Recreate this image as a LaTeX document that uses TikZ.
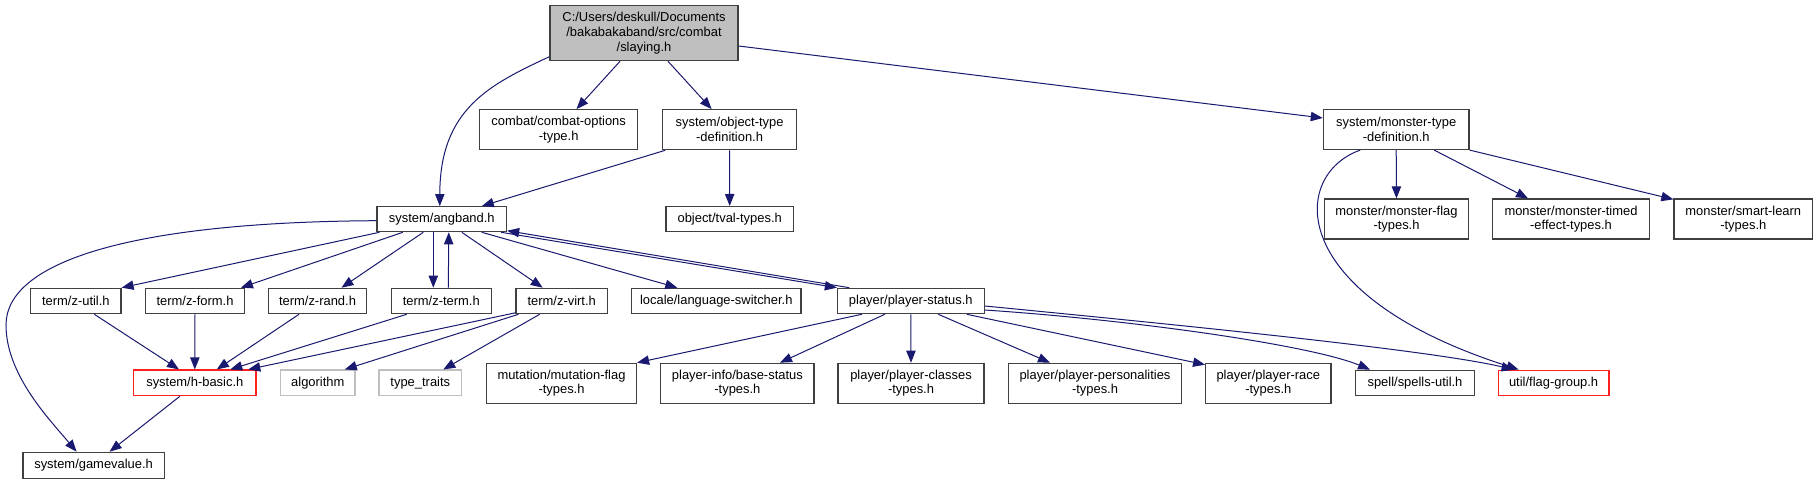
\documentclass[tikz,border=0pt]{standalone}
\usepackage{fontspec}
\setmainfont{Liberation Sans}
\usetikzlibrary{arrows.meta,calc}
\definecolor{edgec}{HTML}{191970}
\definecolor{boxc}{HTML}{404040}
\definecolor{rootfill}{HTML}{BFBFBF}
\definecolor{grayc}{HTML}{BFBFBF}
\definecolor{redc}{HTML}{FF2020}
\begin{document}
\begin{tikzpicture}[x=0.75pt,y=-0.75pt,
  box/.style 2 args={draw=boxc, line width=0.9pt, fill=white, inner sep=0pt, align=center,
    font=\fontsize{9.7}{11}\selectfont, minimum width={#1*0.75pt}, minimum height={#2*0.75pt}},
  edge/.style={draw=edgec, line width=0.75pt, -{Triangle[length=9pt,width=7pt]}}]
\fill[white] (0,0) rectangle (1818,484);
\useasboundingbox (0,0) rectangle (1818,484);
% nodes
\node[box={188}{55}, fill=rootfill] (root) at (644,33.2) {C:/Users/deskull/Documents\\/bakabakaband/src/combat\\/slaying.h};
\node[box={158}{40}] (combat) at (558.7,129.7) {combat/combat-options\\-type.h};
\node[box={133.6}{40}] (objtype) at (729.6,129.7) {system/object-type\\-definition.h};
\node[box={145.7}{40}] (montype) at (1396.2,129.5) {system/monster-type\\-definition.h};
\node[box={129.5}{25}] (angband) at (441.8,219.2) {system/angband.h};
\node[box={127.3}{25}] (tval) at (729.7,219.1) {object/tval-types.h};
\node[box={144.4}{40}] (monflag) at (1396.5,219) {monster/monster-flag\\-types.h};
\node[box={156.6}{40}] (montimed) at (1571,219) {monster/monster-timed\\-effect-types.h};
\node[box={138.7}{40}] (smart) at (1743.3,219) {monster/smart-learn\\-types.h};
\node[box={90.3}{25.4}] (zutil) at (75.85,301) {term/z-util.h};
\node[box={98.6}{25.4}] (zform) at (195,301) {term/z-form.h};
\node[box={98.4}{25.4}] (zrand) at (317.5,301) {term/z-rand.h};
\node[box={99.7}{25.4}] (zterm) at (441.3,301) {term/z-term.h};
\node[box={91.3}{25.4}] (zvirt) at (561.7,301) {term/z-virt.h};
\node[box={169.3}{25.4}] (lang) at (716.3,301) {locale/language-switcher.h};
\node[box={146.7}{25.4}] (pstatus) at (910.8,301) {player/player-status.h};
\node[box={122.5}{25.7}, draw=redc] (hbasic) at (194.8,382.9) {system/h-basic.h};
\node[box={74.5}{25.7}, draw=grayc] (algo) at (317.8,382.9) {algorithm};
\node[box={82.7}{25.7}, draw=grayc] (ttraits) at (420.3,382.9) {type\_traits};
\node[box={150}{40}] (mutation) at (561.5,383.3) {mutation/mutation-flag\\-types.h};
\node[box={153.3}{40}] (basestat) at (737.4,383.3) {player-info/base-status\\-types.h};
\node[box={146}{40}] (pclasses) at (911,383.3) {player/player-classes\\-types.h};
\node[box={173.4}{40}] (personal) at (1095,383.3) {player/player-personalities\\-types.h};
\node[box={125.3}{40}] (prace) at (1268.3,383.3) {player/player-race\\-types.h};
\node[box={118.6}{25.7}] (spells) at (1415,383) {spell/spells-util.h};
\node[box={110.7}{25.7}, draw=redc] (flag) at (1553.6,383) {util/flag-group.h};
\node[box={141.3}{26}] (gamevalue) at (93.6,465.3) {system/gamevalue.h};
% edges from root
\draw[edge] ($(root.west)+(0,23.5)$) .. controls +(-60,28) and +(0,-97) .. ($(angband.north)+(-2,0)$);
\draw[edge] ($(root.south)+(-24,0)$) -- ($(combat.north)+(17.8,0)$);
\draw[edge] ($(root.south)+(24,0)$) -- ($(objtype.north)+(-18,0)$);
\draw[edge] ($(root.east)+(0,12.8)$) -- ($(montype.west)+(0,-11.5)$);
% object type
\draw[edge] ($(objtype.south west)+(3,0)$) -- ($(angband.north)+(40,0)$);
\draw[edge] (objtype.south) -- (tval.north);
% angband
\draw[edge] ($(angband.west)+(0,1.5)$) .. controls (130,222) and (6,262) .. (6,325)
  .. controls (6,375) and (50,420) .. ($(gamevalue.north)+(-17,0)$);
\draw[edge] ($(angband.south west)+(3,0)$) -- (zutil.north east);
\draw[edge] ($(angband.south)+(-39,0)$) -- ($(zform.north east)+(-4,0)$);
\draw[edge] ($(angband.south)+(-18.5,0)$) -- ($(zrand.north)+(24,0)$);
\draw[edge] ($(angband.south)+(-8.5,0)$) -- ($(zterm.north)+(-8,0)$);
\draw[edge] ($(zterm.north)+(7,0)$) -- ($(angband.south)+(7,0)$);
\draw[edge] ($(angband.south)+(20,0)$) -- ($(zvirt.north)+(-19,0)$);
\draw[edge] ($(angband.south)+(40,0)$) -- ($(lang.north)+(-39,0)$);
\draw[edge] ($(angband.south east)+(-6,0)$) -- (pstatus.north west);
\draw[edge] ($(pstatus.north west)+(12.5,0)$) -- ($(angband.east)+(0,11.5)$);
% term to h-basic etc
\draw[edge] ($(zutil.south)+(18.5,0)$) -- ($(hbasic.north)+(-15.8,0)$);
\draw[edge] (zform.south) -- (hbasic.north);
\draw[edge] ($(zrand.south)+(-18.5,0)$) -- ($(hbasic.north)+(22,0)$);
\draw[edge] ($(zterm.south)+(-34.6,0)$) -- ($(hbasic.north)+(35.5,0)$);
\draw[edge] ($(zvirt.south west)+(0,-1.5)$) -- ($(hbasic.north)+(53.5,0)$);
\draw[edge] ($(zvirt.south west)+(3,0)$) -- ($(algo.north)+(27,0)$);
\draw[edge] ($(zvirt.south)+(-22,0)$) -- ($(ttraits.north)+(23,0)$);
\draw[edge] ($(hbasic.south)+(-15,0)$) -- ($(gamevalue.north)+(16,0)$);
% player status
\draw[edge] ($(pstatus.south)+(-49,0)$) -- (mutation.north east);
\draw[edge] ($(pstatus.south)+(-26,0)$) -- ($(basestat.north)+(42.6,0)$);
\draw[edge] (pstatus.south) -- (pclasses.north);
\draw[edge] ($(pstatus.south)+(27.5,0)$) -- ($(personal.north)+(-45,0)$);
\draw[edge] ($(pstatus.south)+(56,0)$) -- ($(prace.north west)+(0,2)$);
\draw[edge] ($(pstatus.east)+(0,9)$) .. controls (1134,320) and (1310,345) .. ($(spells.north)+(-45,0)$);
\draw[edge] ($(pstatus.east)+(0,5)$) .. controls (1180,325) and (1430,350) .. ($(flag.north)+(-40,0)$);
% monster type
\draw[edge] (montype.south) -- (monflag.north);
\draw[edge] ($(montype.south)+(38,0)$) -- ($(montimed.north)+(-43,0)$);
\draw[edge] (montype.south east) -- ($(smart.north west)+(0,1)$);
\draw[edge] ($(montype.south)+(-36,0)$) .. controls (1290,175) and (1285,295) .. ($(flag.north)+(-35,0)$);
\end{tikzpicture}
\end{document}
